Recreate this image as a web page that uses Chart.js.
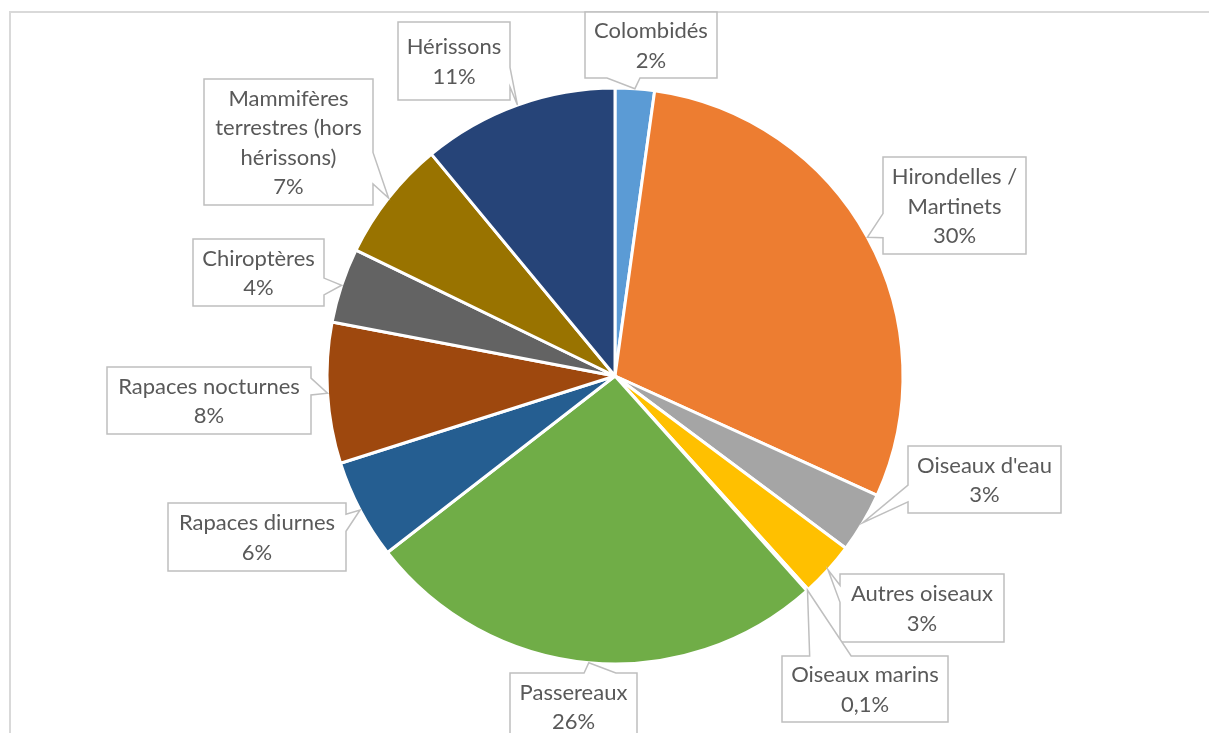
<!DOCTYPE html>
<html lang="fr">
<head>
<meta charset="utf-8">
<title>Répartition des espèces</title>
<script src="https://cdn.jsdelivr.net/npm/chart.js@4.4.0/dist/chart.umd.min.js"></script>
<style>
  html, body { margin: 0; padding: 0; background: #fff; overflow: hidden; }
  canvas { display: block; }
</style>
</head>
<body>
<canvas id="pie" width="1209" height="733"></canvas>
<script>
// Data
const categories = [
  'Colombidés', 'Hirondelles / Martinets', "Oiseaux d'eau", 'Autres oiseaux',
  'Oiseaux marins', 'Passereaux', 'Rapaces diurnes', 'Rapaces nocturnes',
  'Chiroptères', 'Mammifères terrestres (hors hérissons)', 'Hérissons',
];
const values = [2.2, 29.6, 3.4, 3.1, 0.1, 26.1, 5.6, 7.9, 4.2, 6.8, 11.0];
const colors = [
  '#5B9BD5', '#ED7D31', '#A5A5A5', '#FFC000', '#4472C4', '#70AD47',
  '#255E91', '#9E480E', '#636363', '#997300', '#264478',
];

// Callout boxes: [left, top, width, height] and how each label wraps
const callouts = [
  { box: [585, 12, 132, 66], lines: ['Colombidés'] },
  { box: [883, 157, 143, 97], lines: ['Hirondelles /', 'Martinets'] },
  { box: [908, 446, 153, 67], lines: ["Oiseaux d'eau"] },
  { box: [840, 574, 164, 68], lines: ['Autres oiseaux'] },
  { box: [782, 656, 166, 66], lines: ['Oiseaux marins'] },
  { box: [510, 673, 127, 67], lines: ['Passereaux'] },
  { box: [168, 503, 178, 68], lines: ['Rapaces diurnes'] },
  { box: [107, 367, 204, 67], lines: ['Rapaces nocturnes'] },
  { box: [193, 239, 131, 67], lines: ['Chiroptères'] },
  { box: [204, 79, 169, 126], lines: ['Mammifères', 'terrestres (hors', 'hérissons)'] },
  { box: [398, 22, 112, 78], lines: ['Hérissons'] },
];

const total = values.reduce((a, b) => a + b, 0);
const pctLabel = (v) => {
  const p = (v / total) * 100;
  return (p < 1 ? p.toFixed(1).replace('.', ',') : Math.round(p)) + '%';
};

// Office "wedgeRectCallout" shape: the tail sits on the side facing the point
function calloutPath(ctx, l, t, w, h, px, py) {
  const r = l + w;
  const b = t + h;
  const dx = px - (l + w / 2);
  const dy = py - (t + h / 2);
  const dz = Math.abs(dy) - Math.abs((dx * h) / w);
  const x1 = l + (w * (dx > 0 ? 7 : 2)) / 12;
  const x2 = l + (w * (dx > 0 ? 10 : 5)) / 12;
  const y1 = t + (h * (dy > 0 ? 7 : 2)) / 12;
  const y2 = t + (h * (dy > 0 ? 10 : 5)) / 12;
  ctx.beginPath();
  ctx.moveTo(l, t);
  if (dz > 0 && dy < 0) { ctx.lineTo(x1, t); ctx.lineTo(px, py); ctx.lineTo(x2, t); }
  ctx.lineTo(r, t);
  if (dz <= 0 && dx > 0) { ctx.lineTo(r, y1); ctx.lineTo(px, py); ctx.lineTo(r, y2); }
  ctx.lineTo(r, b);
  if (dz > 0 && dy > 0) { ctx.lineTo(x2, b); ctx.lineTo(px, py); ctx.lineTo(x1, b); }
  ctx.lineTo(l, b);
  if (dz <= 0 && dx < 0) { ctx.lineTo(l, y2); ctx.lineTo(px, py); ctx.lineTo(l, y1); }
  ctx.closePath();
}

const ctx = document.getElementById('pie');
// eslint-disable-next-line no-unused-vars
const chart = new Chart(ctx, {
  type: 'pie',
  data: {
    labels: categories,
    datasets: [{
      data: values,
      backgroundColor: colors,
      borderColor: '#ffffff',
      borderWidth: 3,
      radius: 288,
    }],
  },
  options: {
    responsive: false,
    devicePixelRatio: 1,
    animation: false,
    layout: {
      padding: { top: 19, bottom: 0, left: 21, right: 0 },
    },
    plugins: {
      legend: { display: false },
      tooltip: { enabled: false },
    },
  },
  plugins: [{
    id: 'chartFrame',
    beforeDraw(c) {
      const g = c.ctx;
      g.save();
      g.fillStyle = '#d9d9d9';
      g.fillRect(9, 11, 2, c.height);
      g.fillRect(9, 11, c.width, 2);
      g.restore();
    },
  }, {
    id: 'callouts',
    afterDatasetsDraw(c) {
      const g = c.ctx;
      const arcs = c.getDatasetMeta(0).data;
      g.save();
      arcs.forEach((arc, i) => {
        const {
          x, y, startAngle, endAngle, outerRadius,
        } = arc.getProps(['x', 'y', 'startAngle', 'endAngle', 'outerRadius'], true);
        const mid = (startAngle + endAngle) / 2;
        const px = x + Math.cos(mid) * outerRadius;
        const py = y + Math.sin(mid) * outerRadius;
        const [l, t, w, h] = callouts[i].box;
        calloutPath(g, l, t, w, h, px, py);
        g.fillStyle = '#ffffff';
        g.fill();
        g.lineWidth = 1.5;
        g.strokeStyle = '#bfbfbf';
        g.stroke();
        // Label text
        const lines = callouts[i].lines.concat(pctLabel(values[i]));
        const lh = 29.5;
        g.fillStyle = '#595959';
        g.font = '22px Lato';
        g.textAlign = 'center';
        g.textBaseline = 'middle';
        const y0 = t + h / 2 - ((lines.length - 1) * lh) / 2;
        lines.forEach((s, k) => g.fillText(s, l + w / 2, y0 + k * lh + 1));
      });
      g.restore();
    },
  }],
});
</script>
</body>
</html>
